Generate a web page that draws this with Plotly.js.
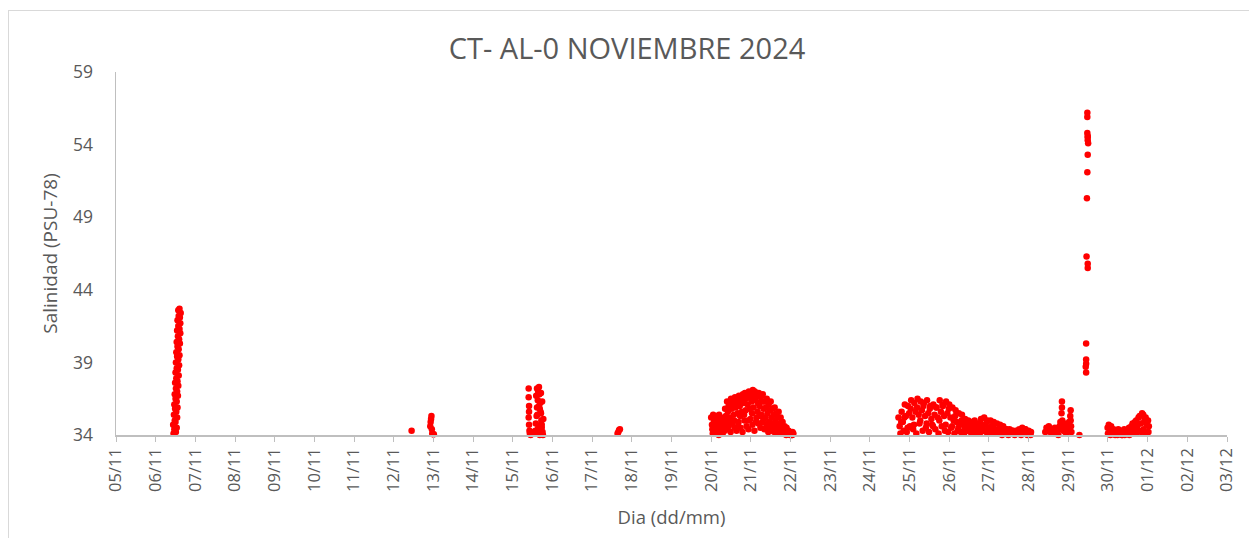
<!DOCTYPE html>
<html>
<head>
<meta charset="utf-8">
<script src="https://cdn.plot.ly/plotly-3.0.1.min.js"></script>
<style>
  html, body { margin: 0; padding: 0; background: #ffffff; }
  #frame { position: absolute; left: 8px; top: 10px; width: 1245px; height: 530px;
           border-left: 1px solid #d9d9d9; border-top: 1px solid #d9d9d9; box-sizing: border-box; }
  #chart { position: absolute; left: 0; top: 0; width: 1249px; height: 538px; }
</style>
</head>
<body>
<div id="frame"></div>
<div id="chart"></div>
<script>
// x = day number (November days; 31 = 01/12, 32 = 02/12, 33 = 03/12), y = salinity (PSU-78)
const tickVals = [5,6,7,8,9,10,11,12,13,14,15,16,17,18,19,20,21,22,23,24,25,26,27,28,29,30,31,32,33];
const tickLabels = ['05/11','06/11','07/11','08/11','09/11','10/11','11/11','12/11','13/11','14/11','15/11','16/11','17/11','18/11','19/11','20/11','21/11','22/11','23/11','24/11','25/11','26/11','27/11','28/11','29/11','30/11','01/12','02/12','03/12'];
const yTicks = [34,39,44,49,54,59];

const c1x = [6.45,6.51,6.47,6.53,6.44,6.50,6.48,6.54,6.46,6.52,6.49,6.55,6.47,6.53,6.50,6.56,6.48,6.54,6.51,6.57,6.49,6.55,6.52,6.58,6.50,6.56,6.53,6.59,6.51,6.57,6.54,6.60,6.52,6.58,6.55,6.61,6.53,6.59,6.56,6.62,6.54,6.60,6.57,6.62,6.55,6.61,6.58,6.63,6.57,6.60];
const c1y = [34.1,34.2,34.4,34.5,34.7,34.9,35.0,35.2,35.4,35.6,35.8,35.9,36.1,36.3,36.5,36.7,36.8,37.0,37.2,37.4,37.6,37.7,37.9,38.1,38.3,38.5,38.6,38.8,39.0,39.2,39.4,39.5,39.7,39.9,40.1,40.3,40.4,40.6,40.8,41.0,41.2,41.3,41.5,41.7,41.9,42.1,42.2,42.4,42.6,42.7];

const c2x = [12.45,12.92,12.93,12.94,12.95,12.96,12.97,12.99,13.01];
const c2y = [34.3,34.6,34.9,35.1,35.3,34.4,34.1,34.05,34.05];

const c3x = [15.40,15.40,15.41,15.41,15.40,15.41,15.42,15.43,15.45,15.47,15.50,15.57,15.58,15.60,15.61,15.63,15.64,15.66,15.67,15.69,15.70,15.72,15.73,15.75,15.76,15.59,15.62,15.65,15.68,15.71,15.74,15.77,15.58,15.63,15.68,15.73,15.61,15.66,15.71];
const c3y = [37.2,36.6,36.0,35.6,35.2,34.7,34.3,34.1,34.0,34.2,34.1,34.3,34.8,35.3,35.9,36.4,37.0,37.3,36.8,36.2,35.6,35.0,34.5,34.2,34.0,36.7,35.4,34.6,35.8,36.9,36.3,35.1,34.1,34.4,34.0,34.7,37.2,36.0,35.5];

const c4x = [17.64,17.66,17.68,17.70];
const c4y = [34.1,34.2,34.35,34.4];

const c5x = [
  20.00,20.05,20.10,20.15,20.20,20.25,20.30,20.35,20.40,20.45,20.50,20.55,20.60,20.65,20.70,20.75,20.80,20.85,20.90,20.95,21.00,21.05,21.10,21.15,21.20,21.25,21.30,21.35,21.40,21.45,21.50,21.55,21.60,21.65,21.70,21.75,21.80,21.85,21.90,21.95,22.00,22.05,
  20.02,20.07,20.12,20.17,20.22,20.27,20.32,20.37,20.42,20.47,20.52,20.57,20.62,20.67,20.72,20.77,20.82,20.87,20.92,20.97,21.02,21.07,21.12,21.17,21.22,21.27,21.32,21.37,21.42,21.47,21.52,21.57,21.62,21.67,21.72,21.77,21.82,21.87,21.92,21.97,22.02,22.06,
  20.04,20.09,20.14,20.19,20.24,20.29,20.34,20.39,20.44,20.49,20.54,20.59,20.64,20.69,20.74,20.79,20.84,20.89,20.94,20.99,21.04,21.09,21.14,21.19,21.24,21.29,21.34,21.39,21.44,21.49,21.54,21.59,21.64,21.69,21.74,21.79,21.84,21.89,21.94,21.99,22.03,22.07,
  20.03,20.08,20.13,20.18,20.23,20.28,20.33,20.38,20.43,20.48,20.53,20.58,20.63,20.68,20.73,20.78,20.83,20.88,20.93,20.98,21.03,21.08,21.13,21.18,21.23,21.28,21.33,21.38,21.43,21.48,21.53,21.58,21.63,21.68,21.73,21.78,21.83,21.88,21.93,21.98,22.01,22.04];
const c5y = [
  35.2,35.4,35.1,35.3,35.4,35.2,35.0,35.8,36.3,36.1,36.5,36.4,36.6,36.2,36.7,36.5,36.8,36.9,36.6,37.0,36.8,37.1,37.0,36.7,36.9,36.6,36.8,36.3,36.5,36.1,36.3,35.8,35.9,35.5,35.6,35.2,34.9,34.6,34.5,34.3,34.2,34.2,
  34.7,34.9,34.6,34.8,34.5,34.9,34.6,35.3,35.6,35.2,35.8,35.4,35.9,35.5,36.0,35.6,36.2,35.7,36.1,35.8,36.3,35.9,36.4,35.6,36.0,35.4,35.8,35.2,35.5,34.9,35.2,34.8,35.0,34.6,34.8,34.5,34.4,34.2,34.3,34.1,34.1,34.1,
  34.1,34.3,34.2,34.0,34.2,34.1,34.3,34.4,34.6,34.2,34.8,34.5,34.3,34.9,34.5,34.2,35.0,34.6,34.4,35.1,34.7,34.3,35.2,34.8,34.5,34.9,34.4,34.6,34.2,34.5,34.3,34.2,34.4,34.1,34.3,34.1,34.2,34.0,34.1,34.0,34.0,34.1,
  34.4,35.0,34.3,34.9,34.7,34.4,34.8,34.9,35.9,34.9,36.1,35.0,36.3,34.6,35.3,36.2,35.4,36.5,35.0,36.6,35.5,36.7,34.9,36.2,35.3,36.3,35.1,35.9,34.8,35.7,34.7,35.4,34.5,35.2,34.4,34.9,34.3,34.4,34.2,34.2,34.1,34.0];

const c6x = [
  24.72,24.80,24.88,24.96,25.04,25.12,25.20,25.28,25.36,25.44,25.52,25.60,25.68,25.76,25.84,25.92,26.00,26.08,26.16,26.24,26.32,26.40,26.48,26.56,26.64,26.72,26.80,26.88,26.96,27.04,27.12,27.20,27.28,27.36,27.44,27.52,27.60,27.68,27.76,27.84,27.92,28.00,
  24.75,24.83,24.91,24.99,25.07,25.15,25.23,25.31,25.39,25.47,25.55,25.63,25.71,25.79,25.87,25.95,26.03,26.11,26.19,26.27,26.35,26.43,26.51,26.59,26.67,26.75,26.83,26.91,26.99,27.07,27.15,27.23,27.31,27.39,27.47,27.55,27.63,27.71,27.79,27.87,27.95,28.03,
  24.77,24.85,24.93,25.01,25.09,25.17,25.25,25.33,25.41,25.49,25.57,25.65,25.73,25.81,25.89,25.97,26.05,26.13,26.21,26.29,26.37,26.45,26.53,26.61,26.69,26.77,26.85,26.93,27.01,27.09,27.17,27.25,27.33,27.41,27.49,27.57,27.65,27.73,27.81,27.89,27.97,28.05,
  24.79,24.87,24.95,25.03,25.11,25.19,25.27,25.35,25.43,25.51,25.59,25.67,25.75,25.83,25.91,25.99,26.07,26.15,26.23,26.31,26.39,26.47,26.55,26.63,26.71,26.79,26.87,26.95,27.03,27.11,27.19,27.27,27.35,27.43,27.51,27.59,27.67,27.75,27.83,27.91,27.99,28.06,
  28.42,28.45,28.48,28.51,28.54,28.57,28.60,28.63,28.66,28.69,28.72,28.75,28.78,28.80,28.82,28.83,28.84,28.84,28.85,28.86,28.88,28.90,28.92,28.94,28.96,28.98,29.00,29.02,29.04,29.05,29.06,29.06,29.07,29.08,29.28];
const c6y = [
  35.2,35.6,36.1,36.0,36.4,36.2,36.5,36.3,36.2,36.4,36.0,36.1,35.9,36.4,36.0,36.3,36.1,35.9,35.7,35.5,35.4,35.1,35.0,34.9,35.0,34.8,35.1,35.2,35.0,35.0,34.9,34.8,34.7,34.6,34.4,34.4,34.3,34.3,34.4,34.5,34.4,34.3,
  34.6,34.9,35.3,35.5,35.2,35.6,35.4,35.7,35.3,35.5,35.1,35.4,35.2,35.6,35.3,35.5,35.2,35.0,34.9,34.8,34.7,34.6,34.5,34.6,34.4,34.5,34.6,34.7,34.5,34.6,34.4,34.3,34.4,34.2,34.2,34.1,34.2,34.1,34.2,34.3,34.2,34.1,
  34.1,34.3,34.2,34.6,34.4,34.1,34.8,34.3,34.5,34.2,34.7,34.4,34.1,34.6,34.3,34.2,34.5,34.1,34.3,34.2,34.1,34.3,34.2,34.1,34.2,34.1,34.3,34.2,34.1,34.2,34.1,34.1,34.0,34.1,34.0,34.1,34.0,34.1,34.0,34.1,34.0,34.0,
  34.9,35.2,34.5,35.8,34.7,35.9,35.0,36.0,34.8,35.8,34.6,35.9,35.0,36.1,34.7,35.8,34.6,35.3,34.5,35.0,34.4,34.8,34.3,34.7,34.4,34.8,34.3,34.9,34.4,34.7,34.3,34.5,34.2,34.4,34.1,34.3,34.1,34.2,34.1,34.4,34.1,34.2,
  34.2,34.5,34.3,34.6,34.2,34.4,34.1,34.3,34.5,34.2,34.1,34.0,34.6,34.9,34.4,35.5,36.3,35.9,35.0,34.7,34.3,34.8,34.2,34.5,34.1,34.4,34.6,34.9,34.3,35.3,35.7,35.0,34.6,34.2,34.0];

const c7x = [29.48,29.48,29.48,29.49,29.49,29.50,29.49,29.49,29.48,29.47,29.46,29.49,29.49,29.45,29.45,29.45,29.44,29.45];
const c7y = [56.2,55.9,54.8,54.5,54.3,54.1,54.6,53.3,52.1,50.3,46.3,45.8,45.5,40.3,39.2,38.9,38.7,38.3];

const c8x = [29.99,30.02,30.05,30.08,30.11,30.14,30.17,30.20,30.23,30.26,30.29,30.32,30.35,30.38,30.41,30.44,30.47,30.50,30.53,30.56,30.59,30.62,30.65,30.68,30.71,30.74,30.77,30.80,30.83,30.86,30.89,30.92,30.95,30.98,31.01,31.03,
  30.00,30.06,30.12,30.18,30.24,30.30,30.36,30.42,30.48,30.54,30.60,30.66,30.72,30.78,30.84,30.90,30.96,31.02];
const c8y = [34.5,34.7,34.3,34.6,34.2,34.4,34.1,34.3,34.2,34.4,34.1,34.3,34.0,34.2,34.4,34.1,34.3,34.2,34.5,34.3,34.6,34.8,34.4,34.9,35.0,34.6,35.2,35.3,34.8,35.5,35.4,35.0,35.2,34.7,35.0,34.6,
  34.1,34.0,34.1,34.0,34.0,34.1,34.0,34.0,34.1,34.0,34.1,34.2,34.1,34.3,34.2,34.4,34.1,34.2];

const xs = [].concat(c1x,c2x,c3x,c4x,c5x,c6x,c7x,c8x);
const ys = [].concat(c1y,c2y,c3y,c4y,c5y,c6y,c7y,c8y);

const txt = '#595959';
const fam = '"Open Sans", "Noto Sans", sans-serif';

Plotly.newPlot('chart', [{
  type: 'scatter', mode: 'markers', x: xs, y: ys,
  marker: { color: '#FF0000', size: 6.5, symbol: 'circle', line: { width: 0 } },
  cliponaxis: false, hoverinfo: 'x+y'
}], {
  width: 1249, height: 538,
  margin: { l: 116, r: 22, t: 72, b: 103 },
  paper_bgcolor: 'rgba(0,0,0,0)', plot_bgcolor: 'rgba(0,0,0,0)',
  showlegend: false,
  title: { text: 'CT- AL-0 NOVIEMBRE 2024', x: 0.502, xanchor: 'center', y: 0.91, yanchor: 'middle',
           font: { family: fam, size: 29, color: txt } },
  xaxis: {
    range: [5, 33], tickmode: 'array', tickvals: tickVals, ticktext: tickLabels,
    tickangle: -90, showgrid: false, zeroline: false,
    showline: true, linecolor: '#bfbfbf', linewidth: 1.5,
    ticks: 'outside', ticklen: 5, tickcolor: '#bfbfbf', tickwidth: 1,
    tickfont: { family: fam, size: 16.5, color: txt },
    title: { text: 'Dia (dd/mm)', standoff: 20, font: { family: fam, size: 18.5, color: txt } }
  },
  yaxis: {
    range: [34, 59], tickmode: 'array', tickvals: yTicks,
    showgrid: false, zeroline: false,
    showline: true, linecolor: '#bfbfbf', linewidth: 1.5,
    ticks: 'outside', ticklen: 18, tickcolor: 'rgba(0,0,0,0)',
    tickfont: { family: fam, size: 17.5, color: txt },
    title: { text: 'Salinidad (PSU-78)', standoff: 10, font: { family: fam, size: 19, color: txt } }
  }
}, { staticPlot: true });
</script>
</body>
</html>
